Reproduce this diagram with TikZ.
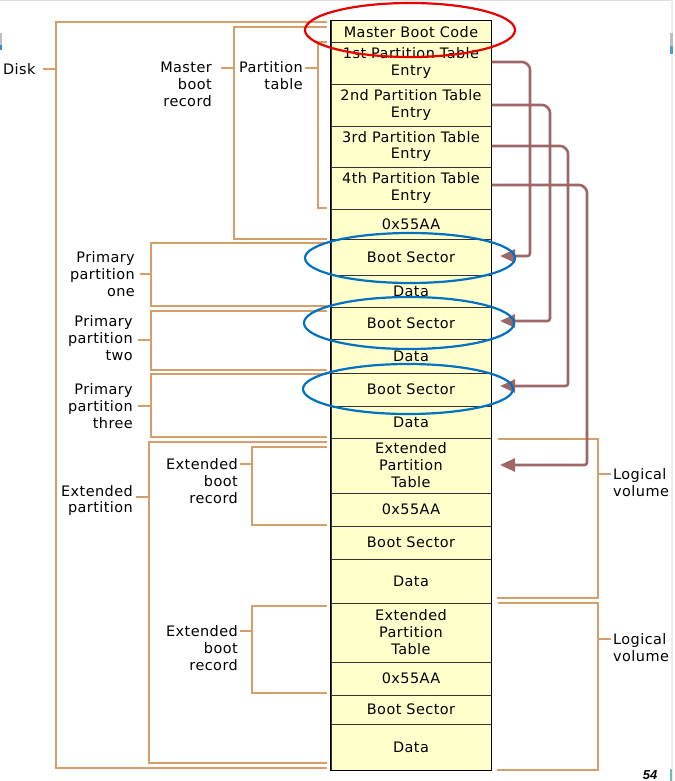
\documentclass[tikz,border=0pt]{standalone}
\usepackage{fontspec}
\usetikzlibrary{arrows.meta,calc}
\newfontfamily\vfont[LetterSpace=3]{DejaVu Sans}
\newfontfamily\lsans{Liberation Sans}
\definecolor{tanc}{RGB}{214,158,104}
\definecolor{brnc}{RGB}{158,102,102}
\definecolor{cellfill}{RGB}{255,255,204}
\definecolor{bluec}{RGB}{0,112,192}
\definecolor{redc}{RGB}{232,0,0}
\tikzset{
  txt/.style={font=\vfont\fontsize{14.5}{17}\selectfont, text=black},
  cell/.style={txt, draw=black!80, line width=1bp, fill=cellfill, minimum width=160bp, inner sep=0pt, align=center},
  lbl/.style={txt, inner sep=0pt, align=right},
  lblr/.style={txt, inner sep=0pt, align=left},
  tanl/.style={draw=tanc, line width=2bp},
  brnl/.style={draw=brnc, line width=2.6bp, rounded corners=2.5bp, -{Triangle[length=15bp,width=13bp]}},
  ell/.style={line width=2.2bp},
}
\newcommand\mkcell[4]{\node[cell, minimum height={(#3-#2)*1bp}] (#1) at (411,{(#2+#3)/2}) {#4};}
\begin{document}
\begin{tikzpicture}[x=1bp,y=-1bp]
\useasboundingbox (0,0) rectangle (675,781);
% slide artifacts
\fill[black!13] (0,0) rectangle (672,1.5);
\fill[black!7] (671,0) rectangle (673,781);
\fill[black!25] (0,33) rectangle (2,45);
\fill[bluec!80] (0,45) rectangle (2,50);
\fill[black!25] (670,33) rectangle (673,46);
\fill[bluec!70] (670,46) rectangle (673,54);
\fill[teal!55] (670,769) rectangle (672,781);
\node[font=\lsans\bfseries\itshape\fontsize{13}{13}\selectfont, anchor=base, inner sep=0pt] (pg) at (650,779) {54};

% column cells
\mkcell{mbc}{21}{42.5}{Master Boot Code}
\mkcell{pt1}{42.5}{84}{1st Partition Table\\Entry}
\mkcell{pt2}{84}{126}{2nd Partition Table\\Entry}
\mkcell{pt3}{126}{167}{3rd Partition Table\\Entry}
\mkcell{pt4}{167}{209}{4th Partition Table\\Entry}
\mkcell{sig}{209}{239}{0x55AA}
\mkcell{bs1}{239}{275}{Boot Sector}
\mkcell{d1}{275}{307}{Data}
\mkcell{bs2}{307}{339}{Boot Sector}
\mkcell{d2}{339}{373}{Data}
\mkcell{bs3}{373}{406}{Boot Sector}
\mkcell{d3}{406}{438}{Data}
\mkcell{ept1}{438}{493}{Extended\\Partition\\Table}
\mkcell{sig1}{493}{526}{0x55AA}
\mkcell{bs4}{526}{559}{Boot Sector}
\mkcell{d4}{559}{603}{Data}
\mkcell{ept2}{603}{662}{Extended\\Partition\\Table}
\mkcell{sig2}{662}{695}{0x55AA}
\mkcell{bs5}{695}{724}{Boot Sector}
\mkcell{d5}{724}{770}{Data}
\draw[line width=1.6bp, black] (mbc.north west) rectangle (d5.south east);

% labels
\node[lbl, anchor=west] (disk) at (3,69) {Disk};
\node[lbl, anchor=east] (mbr) at (212,84) {Master\\boot\\record};
\node[lbl, anchor=east] (ptab) at (303,75.5) {Partition\\table};
\node[lbl, anchor=east] (pp1) at (135,274) {Primary\\partition\\one};
\node[lbl, anchor=east] (pp2) at (133,338) {Primary\\partition\\two};
\node[lbl, anchor=east] (pp3) at (133,406) {Primary\\partition\\three};
\node[lbl, anchor=east] (extp) at (133,500.5) {Extended\\partition};
\node[lbl, anchor=east] (ebr1) at (238,481) {Extended\\boot\\record};
\node[lbl, anchor=east] (ebr2) at (238,648) {Extended\\boot\\record};
\node[lblr, anchor=west] (lv1) at (613,483) {Logical\\volume};
\node[lblr, anchor=west] (lv2) at (613,648) {Logical\\volume};

% brackets
\draw[tanl] (327,22) -- (56,22) -- (56,768) -- (327,768);
\draw[tanl] (43,69) -- (56,69);
\draw[tanl] (327,27) -- (234,27) -- (234,239) -- (327,239);
\draw[tanl] (221,68) -- (234,68);
\draw[tanl] (327,42) -- (318,42) -- (318,208) -- (327,208);
\draw[tanl] (305,68) -- (318,68);
\draw[tanl] (327,243) -- (151,243) -- (151,306) -- (327,306);
\draw[tanl] (140,274) -- (151,274);
\draw[tanl] (327,311) -- (151,311) -- (151,370) -- (327,370);
\draw[tanl] (138,340) -- (151,340);
\draw[tanl] (327,374) -- (151,374) -- (151,437) -- (327,437);
\draw[tanl] (138,406) -- (151,406);
\draw[tanl] (327,442) -- (149,442) -- (149,763) -- (327,763);
\draw[tanl] (136,497) -- (149,497);
\draw[tanl] (327,447) -- (252,447) -- (252,525) -- (327,525);
\draw[tanl] (240,464) -- (252,464);
\draw[tanl] (327,606) -- (252,606) -- (252,693) -- (327,693);
\draw[tanl] (240,631) -- (252,631);
\draw[tanl] (498,439) -- (598,439) -- (598,598) -- (497,598);
\draw[tanl] (598,474) -- (611,474);
\draw[tanl] (498,603) -- (598,603) -- (598,770) -- (497,770);
\draw[tanl] (598,639) -- (611,639);

% pointer arrows
\coordinate (a1) at (500,256);
\coordinate (a2) at (500,321);
\coordinate (a3) at (500,386);
\coordinate (a4) at (500,465);
\draw[brnl] (pt1.east |- 0,62) -- (525,62) -- (530,67) -- (530,256) -- (a1);
\draw[brnl] (pt2.east |- 0,105) -- (545,105) -- (550,110) -- (550,321) -- (a2);
\draw[brnl] (pt3.east |- 0,146) -- (563,146) -- (568,151) -- (568,386) -- (a3);
\draw[brnl] (pt4.east |- 0,185) -- (582,185) -- (587,190) -- (587,465) -- (a4);

% highlight ellipses
\draw[ell, redc] (410,30) ellipse [x radius=105, y radius=27];
\draw[ell, bluec] (410,258) ellipse [x radius=105, y radius=25];
\draw[ell, bluec] (409,323) ellipse [x radius=105, y radius=26];
\draw[ell, bluec] (408,389) ellipse [x radius=105, y radius=25];
\end{tikzpicture}
\end{document}
